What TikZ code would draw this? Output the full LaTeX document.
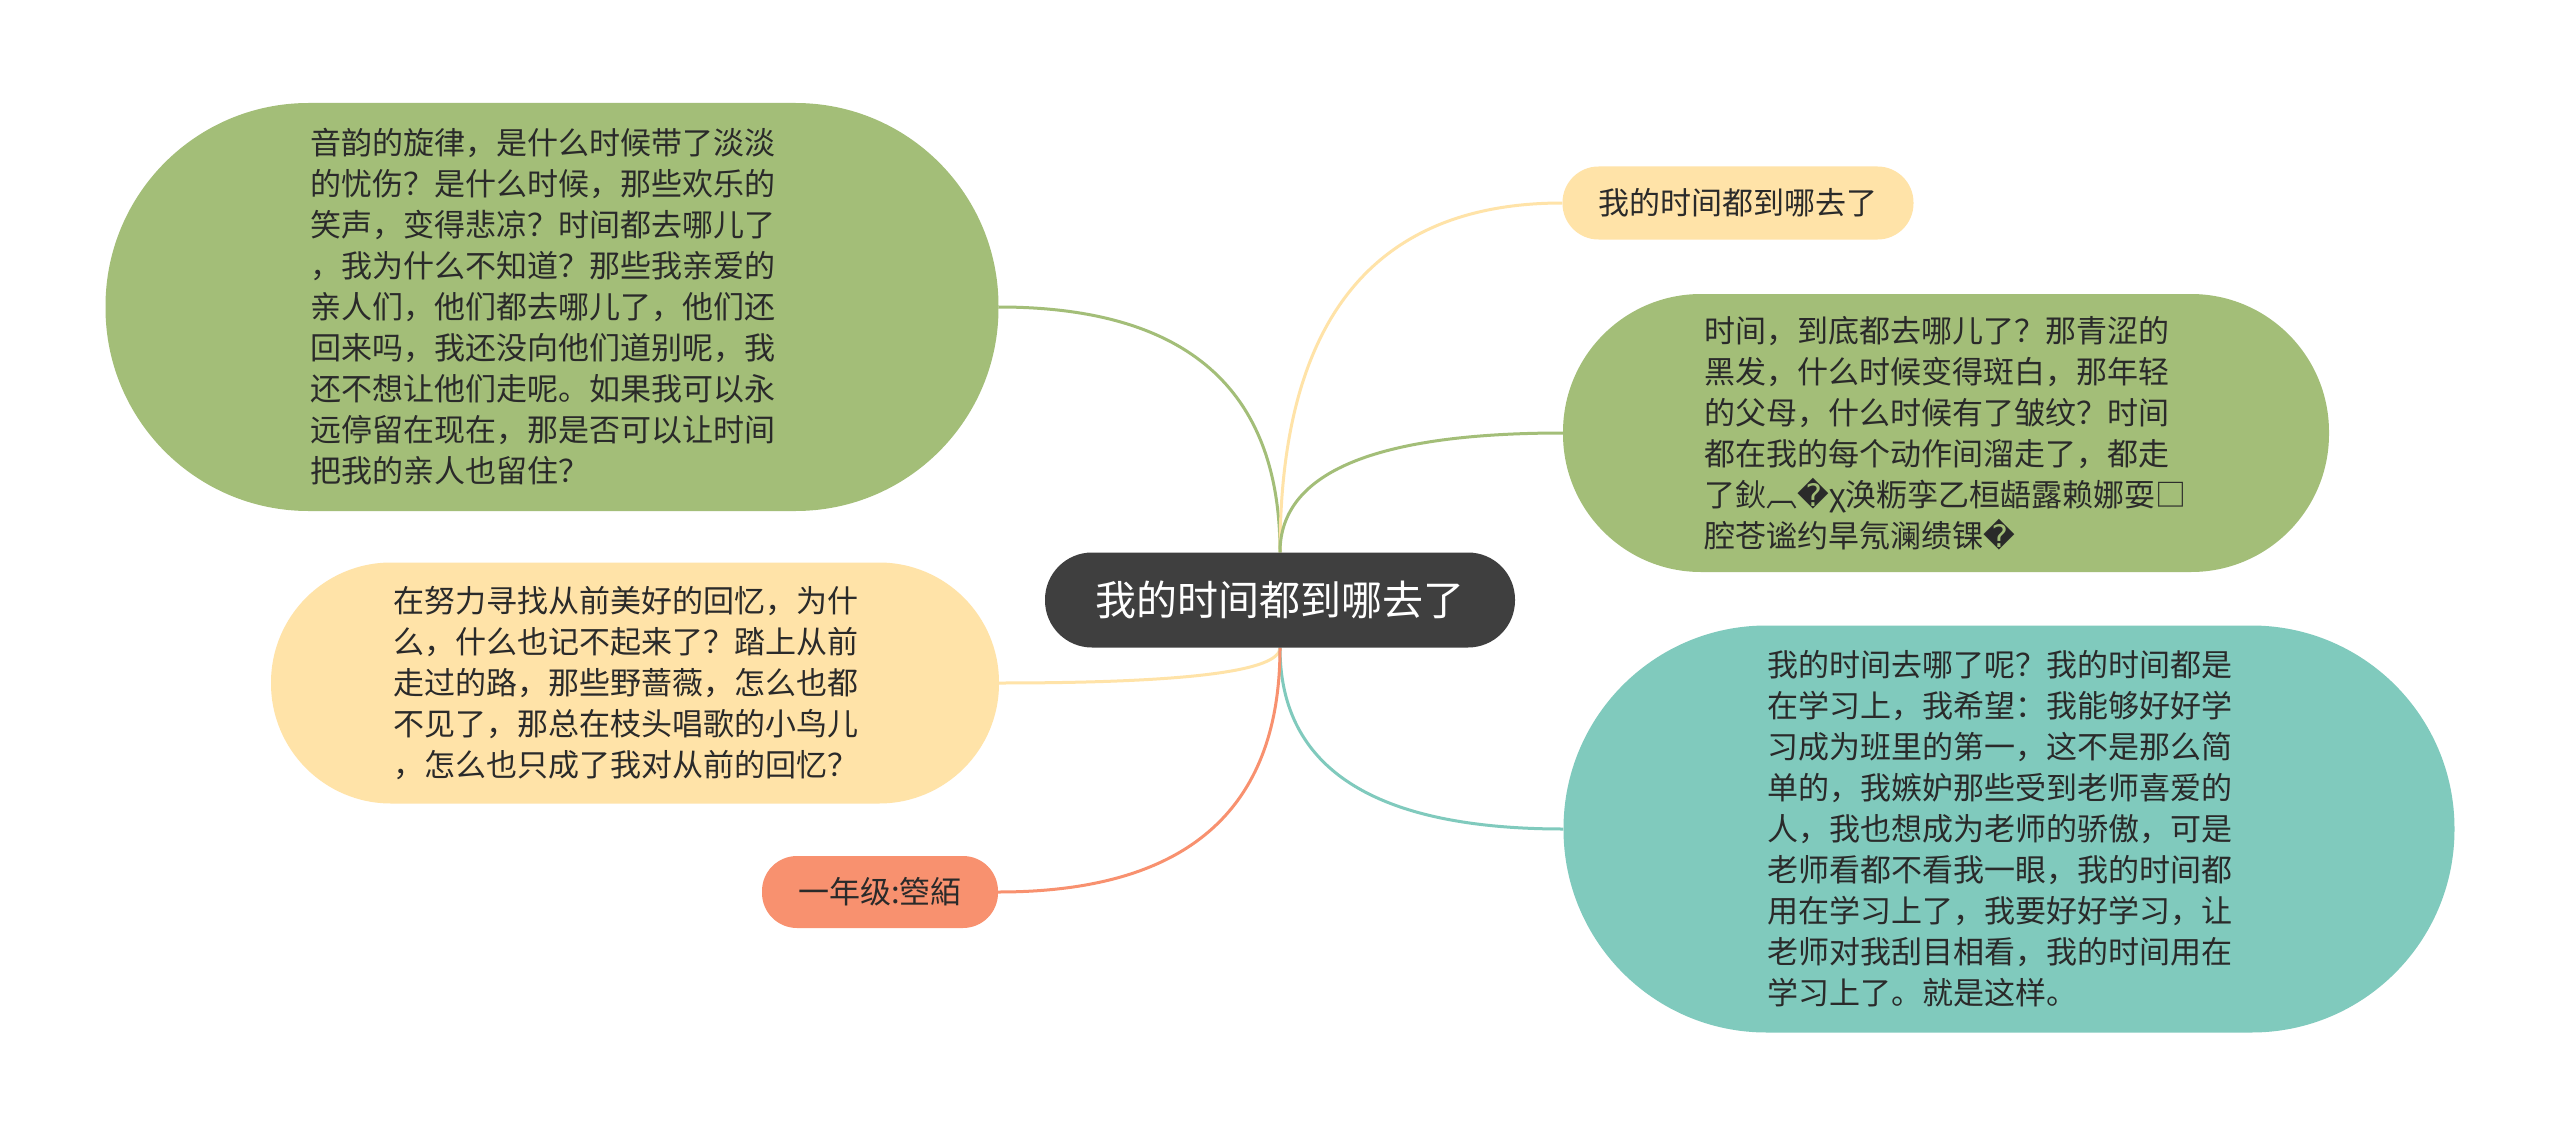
\documentclass[tikz,border=0pt]{standalone}
\usepackage{fontspec}
\setmainfont{Noto Sans CJK SC}
\newfontfamily\cjk{Noto Sans CJK SC}
\newfontfamily\djv{DejaVu Sans}
\usetikzlibrary{calc,backgrounds}
\definecolor{cgreen}{HTML}{A3BE78}
\definecolor{cyellow}{HTML}{FFE3A8}
\definecolor{cteal}{HTML}{80CABD}
\definecolor{corange}{HTML}{F8916F}
\definecolor{cdark}{HTML}{3F3F3F}
\definecolor{ctext}{HTML}{2A2A2A}
\tikzset{
  bub/.style={inner sep=0pt, align=left, text=ctext, font=\cjk\fontsize{31}{41}\selectfont},
  link/.style={line width=3pt},
}
\newcommand{\rep}{{\djv\symbol{"FFFD}}}
\begin{document}
\begin{tikzpicture}[x=1pt,y=-1pt]
\useasboundingbox (0,0) rectangle (2560,1137);

% central node
\node[bub, fill=cdark, text=white, align=center, minimum width=470pt, minimum height=95pt, rounded corners=47pt, font=\cjk\fontsize{41}{48}\selectfont] (c) at (1280,600) {我的时间都到哪去了};

% left green
\node[bub, fill=cgreen, minimum width=893pt, minimum height=408pt, rounded corners=203pt] (lg) at (552,307) {音韵的旋律，是什么时候带了淡淡\hspace*{18pt}\\的忧伤？是什么时候，那些欢乐的\\笑声，变得悲凉？时间都去哪儿了\\，我为什么不知道？那些我亲爱的\\亲人们，他们都去哪儿了，他们还\\回来吗，我还没向他们道别呢，我\\还不想让他们走呢。如果我可以永\\远停留在现在，那是否可以让时间\\把我的亲人也留住？};

% left yellow
\node[bub, fill=cyellow, minimum width=728pt, minimum height=241pt, rounded corners=120pt] (ly) at (635,683) {在努力寻找从前美好的回忆，为什\hspace*{18pt}\\么，什么也记不起来了？踏上从前\\走过的路，那些野蔷薇，怎么也都\\不见了，那总在枝头唱歌的小鸟儿\\，怎么也只成了我对从前的回忆？};

% left orange
\node[bub, fill=corange, align=center, minimum width=236pt, minimum height=72pt, rounded corners=35pt] (lo) at (880,892) {一年级:箜絔};

% top right yellow
\node[bub, fill=cyellow, align=center, minimum width=351pt, minimum height=73pt, rounded corners=36pt] (ty) at (1738,203) {我的时间都到哪去了};

% right green
\node[bub, fill=cgreen, minimum width=766pt, minimum height=278pt, rounded corners=138pt] (rg) at (1946,433) {时间，到底都去哪儿了？那青涩的\hspace*{18pt}\\黑发，什么时候变得斑白，那年轻\\的父母，什么时候有了皱纹？时间\\都在我的每个动作间溜走了，都走\\了鈥︹\rep χ涣粝孪乙桓龉露赖娜耍□\\腔苍谧约旱氖澜缋锞\rep};

% right teal
\node[bub, fill=cteal, minimum width=891pt, minimum height=407pt, rounded corners=203pt] (rt) at (2009,829) {我的时间去哪了呢？我的时间都是\hspace*{18pt}\\在学习上，我希望：我能够好好学\\习成为班里的第一，这不是那么简\\单的，我嫉妒那些受到老师喜爱的\\人，我也想成为老师的骄傲，可是\\老师看都不看我一眼，我的时间都\\用在学习上了，我要好好学习，让\\老师对我刮目相看，我的时间用在\\学习上了。就是这样。};

\begin{scope}[on background layer]
\fill[white] (0,0) rectangle (2560,1137);
\draw[link, cgreen] (c.north) .. controls ($(c.north)!0.667!(c.north |- lg.east)$) and ($(lg.east)!0.667!(c.north |- lg.east)$) .. (lg.east);
\draw[link, cyellow] (c.north) .. controls ($(c.north)!0.667!(c.north |- ty.west)$) and ($(ty.west)!0.667!(c.north |- ty.west)$) .. (ty.west);
\draw[link, cgreen] (c.north) .. controls ($(c.north)!0.667!(c.north |- rg.west)$) and ($(rg.west)!0.667!(c.north |- rg.west)$) .. (rg.west);
\draw[link, cyellow] (c.south) .. controls ($(c.south)!0.667!(c.south |- ly.east)$) and ($(ly.east)!0.667!(c.south |- ly.east)$) .. (ly.east);
\draw[link, cteal] (c.south) .. controls ($(c.south)!0.667!(c.south |- rt.west)$) and ($(rt.west)!0.667!(c.south |- rt.west)$) .. (rt.west);
\draw[link, corange] (c.south) .. controls ($(c.south)!0.667!(c.south |- lo.east)$) and ($(lo.east)!0.667!(c.south |- lo.east)$) .. (lo.east);
\end{scope}
\end{tikzpicture}
\end{document}
